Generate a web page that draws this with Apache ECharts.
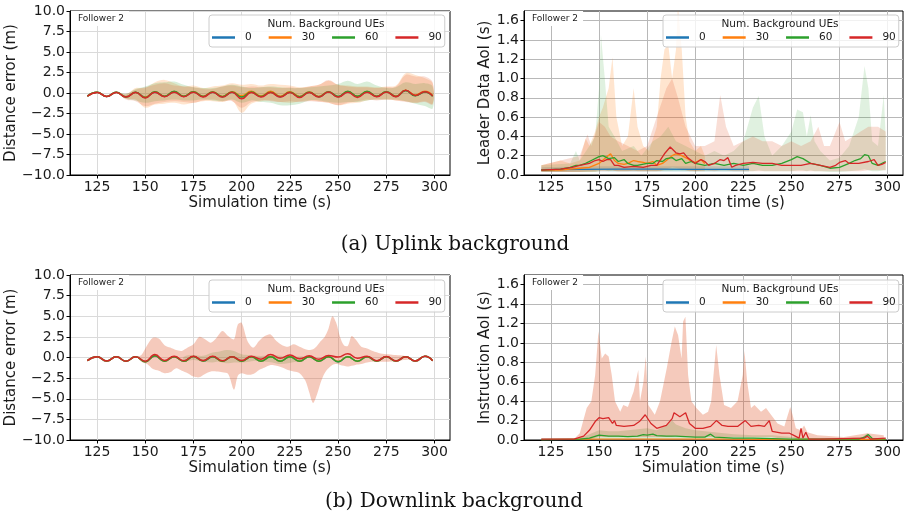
<!DOCTYPE html>
<html>
<head>
<meta charset="utf-8">
<script src="https://cdn.jsdelivr.net/npm/echarts@6/dist/echarts.min.js"></script>
<style>
  html, body { margin: 0; background: #fff; }
  #chart { width: 909px; height: 526px; }
</style>
</head>
<body>
<div id="chart"></div>
<script>
// ---- data ----
const ueCounts = ['0', '30', '60', '90'];
const xTicks = [125, 150, 175, 200, 225, 250, 275, 300];
const aoiTicks = [0, 0.2, 0.4, 0.6, 0.8, 1.0, 1.2, 1.4, 1.6];

// distance error, sampled at peaks / troughs
const errT = [120,125,130,135,140,145,150,155,160,165,170,175,180,185,190,195,200,205,210,215,220,225,230,235,240,245,250,255,260,265,270,275,280,285,290,295,299];

// (a) uplink, distance error
const ulErr0  = [-0.38,0.08,-0.42,0.08,-0.45,0.08,-0.5,0.1,-0.42,0.12,-0.42,0.12,-0.42,0.1,-0.45,0.1,-0.45,0.12,-0.42,0.12,-0.45,0.1,-0.45,0.1,-0.45,0.12,-0.45,0.12,-0.42,0.12,-0.42,0.12,-0.42,0.3,-0.3,0.15,-0.35];
const ulErr30 = [-0.38,0.08,-0.42,0.08,-0.45,0.1,-0.5,0.12,-0.4,0.15,-0.4,0.15,-0.4,0.12,-0.42,0.15,-0.35,0.2,-0.38,0.2,-0.4,0.15,-0.42,0.12,-0.42,0.15,-0.45,0.15,-0.4,0.12,-0.4,0.12,-0.38,0.35,-0.25,0.2,-0.3];
const ulErr60 = [-0.38,0.08,-0.42,0.08,-0.5,0.08,-0.55,0.15,-0.4,0.2,-0.4,0.15,-0.42,0.12,-0.45,0.12,-0.5,0.12,-0.42,0.1,-0.45,0.1,-0.45,0.1,-0.45,0.15,-0.42,0.2,-0.4,0.2,-0.4,0.15,-0.42,0.3,-0.35,0.12,-0.4];
const ulErr90 = [-0.4,0.07,-0.42,0.07,-0.5,0.05,-0.6,0.1,-0.45,0.1,-0.45,0.1,-0.48,0.08,-0.5,0.08,-0.7,0.05,-0.5,0.05,-0.5,0.05,-0.55,0.05,-0.5,0.12,-0.5,0.1,-0.55,0.1,-0.45,0.12,-0.45,0.35,-0.3,0.15,-0.38];
const ulErrLo30 = [-0.4,0.05,-0.45,0.05,-0.7,-0.8,-1.8,-1.4,-1.3,-1.2,-1.4,-1.2,-1.0,-1.0,-1.1,-0.9,-2.4,-1.3,-1.0,-0.9,-1.1,-1.2,-1.0,-0.9,-1.0,-1.2,-1.5,-1.3,-1.2,-0.9,-0.8,-0.8,-0.9,-1.0,-1.2,-1.0,-1.3];
const ulErrHi30 = [-0.35,0.1,-0.4,0.12,-0.2,0.6,0.6,1.3,1.6,1.2,0.8,0.9,0.6,0.8,0.9,1.2,1.0,1.1,0.9,1.1,1.0,0.9,0.7,0.8,1.0,1.5,1.0,0.9,0.8,0.8,0.7,0.8,0.9,2.4,2.2,1.8,1.2];
const ulErrLo60 = [-0.4,0.05,-0.45,0.05,-0.7,-0.9,-1.2,-1.0,-0.9,-0.8,-0.9,-0.9,-0.8,-0.9,-1.0,-0.8,-1.2,-0.9,-1.1,-1.2,-1.5,-1.5,-1.3,-0.9,-0.9,-1.1,-1.2,-1.1,-1.1,-0.9,-0.8,-0.8,-0.8,-1.0,-1.3,-1.6,-1.9];
const ulErrHi60 = [-0.35,0.1,-0.4,0.12,-0.1,0.5,0.8,1.2,1.3,1.4,1.0,0.7,0.6,0.6,0.8,1.0,0.8,0.6,0.7,0.8,0.7,0.6,0.6,0.7,0.8,0.9,1.1,1.5,1.1,1.4,0.9,0.6,0.7,1.3,1.1,1.2,0.8];
const ulErrLo90 = [-0.42,0.04,-0.45,0.04,-0.8,-1.0,-1.6,-1.3,-1.1,-1.0,-1.1,-1.2,-0.9,-0.8,-1.0,-1.0,-1.8,-1.1,-0.9,-1.0,-1.1,-1.0,-1.1,-1.0,-1.1,-1.2,-1.5,-1.2,-1.0,-0.8,-0.9,-0.8,-0.9,-1.1,-1.2,-1.1,-1.4];
const ulErrHi90 = [-0.36,0.1,-0.4,0.1,-0.1,0.4,0.7,1.0,1.2,0.9,0.8,0.7,0.5,0.5,0.8,0.9,0.7,0.8,0.7,0.7,0.6,0.7,0.6,0.8,1.0,1.6,1.0,0.8,0.7,0.7,0.6,0.7,0.8,2.2,2.0,2.0,1.3];

// (a) uplink, leader data AoI
const ulAoiT0 = [120,140,160,180,200,228];
const ulAoi0  = [0.055,0.058,0.06,0.06,0.058,0.058];
const ulAoiT30 = [120,130,135,140,145,150,153,156,158,160,163,165,168,170,173,175,178,180,183,185,188,190,193,196,198,200,203,205];
const ulAoi30  = [0.05,0.05,0.06,0.07,0.08,0.12,0.17,0.22,0.15,0.12,0.11,0.12,0.15,0.14,0.13,0.12,0.14,0.1,0.12,0.15,0.2,0.22,0.2,0.17,0.14,0.13,0.16,0.12];
const ulAoiT60 = [120,130,135,138,140,143,146,150,152,155,158,160,163,165,168,170,175,178,180,183,185,188,190,193,195,198,200,205,210,215,220,225,230,235,240,245,250,253,256,260,265,270,275,280,283,286,288,290,292,295,299];
const ulAoi60  = [0.05,0.06,0.08,0.1,0.1,0.12,0.15,0.19,0.2,0.17,0.18,0.14,0.16,0.12,0.1,0.1,0.12,0.12,0.15,0.14,0.17,0.18,0.15,0.17,0.12,0.14,0.12,0.1,0.12,0.1,0.12,0.1,0.12,0.1,0.1,0.12,0.16,0.19,0.17,0.12,0.1,0.07,0.08,0.12,0.15,0.17,0.21,0.2,0.12,0.1,0.14];
const ulAoiT90 = [120,130,136,140,145,148,150,152,154,156,158,160,163,168,173,177,180,184,187,190,192,194,196,198,200,203,205,207,210,213,215,217,219,221,225,230,235,240,245,250,255,260,265,270,273,275,278,280,285,290,293,295,297,299];
const ulAoi90  = [0.05,0.06,0.08,0.1,0.12,0.15,0.16,0.14,0.16,0.16,0.1,0.1,0.08,0.09,0.08,0.1,0.1,0.22,0.29,0.23,0.22,0.23,0.18,0.15,0.12,0.16,0.14,0.1,0.12,0.16,0.15,0.18,0.08,0.1,0.12,0.13,0.12,0.12,0.1,0.1,0.1,0.12,0.1,0.08,0.1,0.13,0.15,0.12,0.12,0.14,0.16,0.1,0.11,0.13];
const ulAoiBandT0 = [120,150,180,210,228];
const ulAoiLo0 = [0.03,0.035,0.035,0.035,0.035];
const ulAoiHi0 = [0.08,0.09,0.09,0.09,0.09];
const ulAoiBandT30 = [120,130,135,140,143,145,148,150,152,155,157,159,162,165,168,170,173,176,180,182,184,186,188,190,191,193,195,197,200,203,205];
const ulAoiLo30 = [0.03,0.03,0.03,0.03,0.03,0.03,0.03,0.04,0.04,0.04,0.05,0.04,0.04,0.04,0.05,0.04,0.04,0.04,0.04,0.04,0.05,0.05,0.05,0.06,0.06,0.05,0.05,0.04,0.04,0.04,0.04];
const ulAoiHi30 = [0.1,0.15,0.12,0.15,0.38,0.3,0.45,0.6,0.7,0.9,1.22,0.6,0.3,0.4,0.9,0.5,0.3,0.25,0.5,1.0,1.3,1.35,1.0,1.3,1.75,1.3,0.6,0.35,0.25,0.3,0.2];
const ulAoiBandT60 = [120,135,138,140,145,148,150,151,153,155,158,162,168,172,178,182,186,190,195,200,205,210,215,220,225,230,233,236,240,245,250,253,256,258,260,262,265,270,275,280,285,288,290,292,295,298,299];
const ulAoiLo60 = [0.03,0.03,0.03,0.03,0.03,0.03,0.04,0.05,0.05,0.04,0.04,0.04,0.04,0.04,0.04,0.04,0.04,0.04,0.04,0.04,0.04,0.04,0.04,0.04,0.04,0.04,0.05,0.04,0.04,0.04,0.04,0.05,0.05,0.04,0.05,0.04,0.04,0.03,0.03,0.04,0.05,0.06,0.05,0.04,0.04,0.05,0.05];
const ulAoiHi60 = [0.1,0.12,0.25,0.15,0.3,0.4,0.9,1.45,1.0,0.5,0.4,0.25,0.3,0.2,0.35,0.4,0.5,0.35,0.3,0.25,0.2,0.25,0.2,0.25,0.35,0.7,0.82,0.4,0.2,0.3,0.45,0.68,0.65,0.4,0.62,0.35,0.25,0.15,0.18,0.3,0.6,1.13,0.9,0.35,0.3,0.83,0.4];
const ulAoiBandT90 = [120,130,140,144,146,150,153,156,160,165,170,175,180,185,188,191,195,200,205,210,213,216,220,225,230,235,240,245,250,255,260,264,267,270,275,278,282,286,290,295,299];
const ulAoiLo90 = [0.03,0.03,0.03,0.04,0.04,0.05,0.05,0.05,0.04,0.04,0.04,0.04,0.04,0.06,0.08,0.07,0.05,0.04,0.05,0.04,0.05,0.05,0.04,0.04,0.04,0.04,0.04,0.04,0.04,0.04,0.04,0.04,0.04,0.04,0.04,0.04,0.04,0.04,0.05,0.05,0.05];
const ulAoiHi90 = [0.1,0.15,0.2,0.42,0.3,0.55,0.5,0.4,0.35,0.3,0.25,0.3,0.6,0.9,1.0,0.8,0.5,0.3,0.3,0.35,0.83,0.5,0.3,0.35,0.4,0.35,0.35,0.3,0.35,0.3,0.35,0.5,0.3,0.3,0.55,0.35,0.4,0.45,0.5,0.5,0.45];

// (b) downlink, distance error
const dlErr0  = [-0.38,0.08,-0.42,0.08,-0.45,0.1,-0.5,0.18,-0.45,0.1,-0.45,0.12,-0.42,0.1,-0.45,0.08,-0.45,0.1,-0.45,0.08,-0.45,0.1,-0.45,0.08,-0.45,0.1,-0.5,0.1,-0.45,0.1,-0.42,0.1,-0.42,0.1,-0.42,0.15,-0.38];
const dlErr30 = [-0.38,0.08,-0.42,0.08,-0.45,0.1,-0.5,0.2,-0.45,0.1,-0.45,0.12,-0.42,0.12,-0.45,0.1,-0.45,0.1,-0.45,0.1,-0.45,0.1,-0.45,0.08,-0.45,0.1,-0.48,0.1,-0.45,0.1,-0.42,0.1,-0.42,0.1,-0.42,0.15,-0.38];
const dlErr60 = [-0.38,0.08,-0.42,0.08,-0.45,0.1,-0.5,0.2,-0.45,0.1,-0.45,0.12,-0.42,0.1,-0.45,0.08,-0.45,0.1,-0.45,0.08,-0.45,0.1,-0.45,0.08,-0.45,0.1,-0.5,0.1,-0.45,0.1,-0.42,0.1,-0.42,0.1,-0.42,0.15,-0.38];
const dlErr90 = [-0.38,0.08,-0.42,0.08,-0.45,0.1,-0.45,0.35,-0.35,0.15,-0.4,0.15,-0.35,0.15,-0.4,0.1,-0.35,0.15,-0.2,0.35,-0.1,0.3,-0.15,0.2,-0.2,0.25,0.05,0.45,-0.1,0.15,-0.4,0.12,-0.42,0.1,-0.42,0.15,-0.38];
const dlErrBandT60 = [170,175,180,185,188,192,196,200,204,208,212,216,220,224,228,232];
const dlErrLo60 = [-0.45,-0.3,-0.5,-0.6,-0.5,-0.7,-0.6,-0.6,-0.5,-0.4,-0.5,-0.6,-0.8,-0.7,-0.5,-0.45];
const dlErrHi60 = [0.1,0.3,0.2,0.6,0.7,0.9,0.8,0.4,0.3,0.2,0.2,0.3,0.2,0.1,0.1,0.1];
const dlErrBandT90 = [146,148,151,154,157,160,163,166,169,172,175,178,181,184,187,190,193,196,198,200,203,206,209,212,215,218,221,224,227,230,233,235,237,239,241,243,245,247,249,251,253,255,257,259,262,265,268,272,276,280,284,288];
const dlErrLo90 = [0.0,-0.5,-0.8,-1.4,-1.6,-1.9,-1.8,-1.3,-1.6,-1.9,-2.3,-2.4,-2.0,-1.7,-1.7,-1.8,-2.0,-3.9,-2.2,-1.9,-2.1,-2.0,-1.5,-1.2,-0.9,-1.0,-1.2,-1.5,-1.7,-1.9,-2.8,-4.2,-5.5,-4.5,-3.0,-1.9,-1.3,-0.9,-0.8,-0.9,-1.0,-1.1,-1.0,-0.9,-0.8,-0.6,-0.5,-0.5,-0.5,-0.45,-0.3,-0.2];
const dlErrHi90 = [0.1,0.3,1.5,2.4,2.3,1.5,1.2,0.9,0.8,1.2,1.6,2.5,2.2,1.8,2.4,3.2,2.6,2.2,4.0,4.2,2.0,1.2,2.0,2.6,2.8,2.0,1.5,1.3,1.6,1.3,1.0,0.9,1.0,1.4,2.0,2.5,3.5,5.0,4.2,2.5,1.5,1.4,2.6,2.2,1.3,1.1,0.8,0.5,0.4,0.3,0.2,-0.1];

// (b) downlink, instruction AoI
const dlAoiT0 = [120,150,180,210,240,270,299];
const dlAoi0  = [0.003,0.004,0.004,0.004,0.003,0.003,0.003];
const dlAoiT30 = [120,150,180,210,240,270,299];
const dlAoi30  = [0.004,0.008,0.01,0.008,0.006,0.004,0.004];
const dlAoiT60 = [120,140,145,150,155,160,165,170,173,175,178,180,185,190,195,200,205,208,210,215,220,230,240,250,260,285,288,290,292,299];
const dlAoi60  = [0.005,0.01,0.02,0.05,0.04,0.04,0.035,0.04,0.055,0.05,0.06,0.045,0.04,0.04,0.035,0.03,0.03,0.06,0.03,0.025,0.02,0.02,0.015,0.01,0.008,0.01,0.03,0.055,0.015,0.008];
const dlAoiT90 = [120,137,142,145,148,150,152,155,157,158,159,163,168,171,174,177,180,185,188,189,192,195,197,200,204,208,211,214,217,222,226,229,233,236,238.5,240,245,249,251,254,255,256,257.5,259,265,288,289.5,291,299];
const dlAoi90  = [0.01,0.01,0.04,0.1,0.19,0.23,0.22,0.23,0.17,0.2,0.15,0.14,0.15,0.19,0.26,0.17,0.12,0.15,0.22,0.28,0.24,0.28,0.17,0.12,0.12,0.14,0.2,0.15,0.14,0.14,0.2,0.14,0.15,0.14,0.2,0.09,0.07,0.07,0.05,0.02,0.12,0.02,0.08,0.01,0.01,0.02,0.04,0.01,0.02];
const dlAoiBandT60 = [120,140,145,150,155,160,165,170,175,180,185,188,190,195,200,205,210,215,220,230,240,250,260,280,287,289.5,292,299];
const dlAoiLo60 = [0,0,0.005,0.01,0.01,0.01,0.01,0.01,0.01,0.01,0.01,0.01,0.01,0.01,0.01,0.01,0.01,0.01,0.005,0.005,0.005,0,0,0,0,0.01,0,0];
const dlAoiHi60 = [0.01,0.02,0.06,0.1,0.09,0.09,0.1,0.11,0.12,0.1,0.15,0.2,0.16,0.12,0.1,0.09,0.08,0.07,0.06,0.05,0.05,0.03,0.02,0.02,0.03,0.07,0.02,0.02];
const dlAoiBandT90 = [120,137,140,143.6,146,148,149.7,151.4,153.2,155,156.6,158.3,161,162.6,165,168,170.4,171.3,173.1,174.3,175.6,179,181.7,185.2,187.7,189.4,191.1,192.9,193.7,194.9,196.3,198,200.6,204,206.7,208.3,210.9,212.6,215,218.6,222,224.7,225.6,227,229,230.8,234.2,236.8,239.4,242.8,246.3,249.4,250.6,252.3,254.9,256.6,258.3,263.5,277.3,289.4,298];
const dlAoiLo90 = [0,0,0,0.01,0.01,0.02,0.03,0.03,0.03,0.03,0.03,0.03,0.03,0.03,0.03,0.03,0.03,0.03,0.03,0.03,0.03,0.03,0.03,0.03,0.03,0.04,0.04,0.04,0.04,0.04,0.03,0.03,0.03,0.03,0.03,0.03,0.03,0.03,0.03,0.03,0.03,0.03,0.03,0.03,0.03,0.03,0.03,0.03,0.03,0.02,0.02,0.02,0.02,0.01,0.01,0.01,0.01,0,0,0,0];
const dlAoiHi90 = [0.01,0.01,0.07,0.33,0.4,0.67,1.12,0.84,0.89,0.86,0.67,0.4,0.29,0.36,0.34,0.5,0.72,0.4,0.6,0.86,0.36,0.26,0.4,0.74,1.01,1.17,1.08,0.84,1.22,1.27,0.67,0.4,0.33,0.26,0.29,0.4,0.98,0.67,0.36,0.33,0.4,0.67,0.92,0.6,0.33,0.36,0.29,0.33,0.26,0.17,0.14,0.34,0.26,0.12,0.1,0.15,0.08,0.05,0.03,0.07,0.05];

// ---- styling ----
const FONT = 'DejaVu Sans';
const TXT = '#1a1a1a';
const COLORS = { '0': '#1f77b4', '30': '#ff7f0e', '60': '#2ca02c', '90': '#d62728' };
const BAND = { '0': '#1f77b4', '30': '#ff7f0e', '60': '#2ca02c', '90': '#e05a30' };

const gridBoxes = [
  { left: 70, top: 11, width: 380, height: 164 },
  { left: 524, top: 11, width: 379, height: 164 },
  { left: 70, top: 275, width: 380, height: 165 },
  { left: 524, top: 275, width: 379, height: 165 }
];
const isAoi = [false, true, false, true];
const yNames = ['Distance error (m)', 'Leader Data AoI (s)', 'Distance error (m)', 'Instruction AoI (s)'];
const legendPos = [[209, 15], [663, 15], [209, 280], [663, 280]];
const followerPos = [[71, 11], [525, 11], [71, 275], [525, 275]];

function pairs(t, v) { return t.map((x, i) => [x, v[i]]); }
function fmtErr(v) { return (v < 0 ? '\u2212' : '') + Math.abs(v).toFixed(1); }

function lineSeries(name, g, t, v, smooth, width) {
  return {
    name: name, type: 'line', xAxisIndex: g, yAxisIndex: g,
    data: pairs(t, v), symbol: 'none', showSymbol: false, smooth: smooth,
    lineStyle: { color: COLORS[name], width: width },
    itemStyle: { color: COLORS[name] },
    z: 3, animation: false
  };
}

function bandSeries(name, g, t, lo, hi, smooth, opacity) {
  return {
    type: 'custom', xAxisIndex: g, yAxisIndex: g, z: 1, silent: true, animation: false,
    data: [[t[0], lo[0]]],
    renderItem: function (params, api) {
      const up = t.map((x, i) => api.coord([x, hi[i]]));
      const dn = t.map((x, i) => api.coord([x, lo[i]])).reverse();
      const cs = params.coordSys;
      return {
        type: 'polygon',
        shape: { points: up.concat(dn), smooth: smooth },
        style: { fill: BAND[name], opacity: opacity },
        clipPath: { type: 'rect', shape: { x: cs.x, y: cs.y, width: cs.width, height: cs.height } }
      };
    }
  };
}

const series = [
  // (a) distance error
  bandSeries('30', 0, errT, ulErrLo30, ulErrHi30, 0.35, 0.2),
  bandSeries('60', 0, errT, ulErrLo60, ulErrHi60, 0.35, 0.18),
  bandSeries('90', 0, errT, ulErrLo90, ulErrHi90, 0.35, 0.2),
  lineSeries('0', 0, errT, ulErr0, 0.5, 1.5),
  lineSeries('30', 0, errT, ulErr30, 0.5, 1.5),
  lineSeries('60', 0, errT, ulErr60, 0.5, 1.5),
  lineSeries('90', 0, errT, ulErr90, 0.5, 1.5),
  // (a) leader data AoI
  bandSeries('0', 1, ulAoiBandT0, ulAoiLo0, ulAoiHi0, 0, 0.2),
  bandSeries('30', 1, ulAoiBandT30, ulAoiLo30, ulAoiHi30, 0, 0.2),
  bandSeries('60', 1, ulAoiBandT60, ulAoiLo60, ulAoiHi60, 0, 0.15),
  bandSeries('90', 1, ulAoiBandT90, ulAoiLo90, ulAoiHi90, 0, 0.2),
  lineSeries('0', 1, ulAoiT0, ulAoi0, false, 1.3),
  lineSeries('30', 1, ulAoiT30, ulAoi30, false, 1.3),
  lineSeries('60', 1, ulAoiT60, ulAoi60, false, 1.3),
  lineSeries('90', 1, ulAoiT90, ulAoi90, false, 1.3),
  // (b) distance error
  bandSeries('60', 2, dlErrBandT60, dlErrLo60, dlErrHi60, 0.35, 0.2),
  bandSeries('90', 2, dlErrBandT90, dlErrLo90, dlErrHi90, 0.3, 0.32),
  lineSeries('0', 2, errT, dlErr0, 0.5, 1.5),
  lineSeries('30', 2, errT, dlErr30, 0.5, 1.5),
  lineSeries('60', 2, errT, dlErr60, 0.5, 1.5),
  lineSeries('90', 2, errT, dlErr90, 0.5, 1.5),
  // (b) instruction AoI
  bandSeries('60', 3, dlAoiBandT60, dlAoiLo60, dlAoiHi60, 0, 0.22),
  bandSeries('90', 3, dlAoiBandT90, dlAoiLo90, dlAoiHi90, 0, 0.32),
  lineSeries('0', 3, dlAoiT0, dlAoi0, false, 1.3),
  lineSeries('30', 3, dlAoiT30, dlAoi30, false, 1.3),
  lineSeries('60', 3, dlAoiT60, dlAoi60, false, 1.3),
  lineSeries('90', 3, dlAoiT90, dlAoi90, false, 1.3)
];

const grid = gridBoxes.map(b => Object.assign({
  show: true, borderColor: '#000', borderWidth: 1, backgroundColor: 'transparent', containLabel: false
}, b));

const xAxis = gridBoxes.map((b, i) => ({
  type: 'value', gridIndex: i, min: 111, max: 308,
  name: 'Simulation time (s)', nameLocation: 'middle', nameGap: 21,
  nameTextStyle: { fontFamily: FONT, fontSize: 15, color: TXT },
  axisLine: { show: true, onZero: false, lineStyle: { color: '#000', width: 1 } },
  axisTick: { show: true, length: 3.5, customValues: xTicks, lineStyle: { color: '#000' } },
  axisLabel: { customValues: xTicks, fontFamily: FONT, fontSize: 14, color: TXT, margin: 5 },
  splitLine: { show: true, lineStyle: { color: isAoi[i] ? '#b8b8b8' : '#dadada', width: 1 } }
}));

const yAxis = gridBoxes.map((b, i) => isAoi[i] ? {
  type: 'value', gridIndex: i, min: 0, max: 1.7,
  name: yNames[i], nameLocation: 'middle', nameGap: 27,
  nameTextStyle: { fontFamily: FONT, fontSize: 15, color: TXT },
  axisLine: { show: true, lineStyle: { color: '#000', width: 1 } },
  axisTick: { show: true, length: 3.5, customValues: aoiTicks, lineStyle: { color: '#000' } },
  axisLabel: { customValues: aoiTicks, fontFamily: FONT, fontSize: 14, color: TXT, margin: 5,
    formatter: v => v.toFixed(1) },
  splitLine: { show: true, lineStyle: { color: '#b8b8b8', width: 1 } }
} : {
  type: 'value', gridIndex: i, min: -10, max: 10, interval: 2.5,
  name: yNames[i], nameLocation: 'middle', nameGap: 44,
  nameTextStyle: { fontFamily: FONT, fontSize: 15, color: TXT },
  axisLine: { show: true, lineStyle: { color: '#000', width: 1 } },
  axisTick: { show: true, length: 3.5, lineStyle: { color: '#000' } },
  axisLabel: { fontFamily: FONT, fontSize: 14, color: TXT, margin: 5, formatter: fmtErr },
  splitLine: { show: true, lineStyle: { color: '#dadada', width: 1 } }
});

const legend = legendPos.map(p => ({
  left: p[0], top: p[1], orient: 'horizontal', data: ueCounts, selectedMode: false,
  icon: 'rect', itemWidth: 23, itemHeight: 2.5, itemGap: 17,
  padding: [17, 3, 4, 3],
  backgroundColor: 'rgba(255,255,255,0.8)', borderColor: '#cccccc', borderWidth: 1, borderRadius: 3,
  textStyle: { fontFamily: FONT, fontSize: 10.5, color: TXT, padding: [0, 0, 0, 5] },
  z: 20
}));

const graphic = [];
legendPos.forEach(p => {
  graphic.push({
    type: 'text', x: p[0] + 117, y: p[1] + 9, z: 40,
    style: { text: 'Num. Background UEs', font: '10.5px "DejaVu Sans"', fill: TXT, align: 'center', verticalAlign: 'middle' }
  });
});
followerPos.forEach(p => {
  graphic.push({
    type: 'text', x: p[0], y: p[1], z: 40,
    style: { text: 'Follower 2', font: '9px "DejaVu Sans"', fill: TXT, backgroundColor: '#fff', padding: [3, 5, 3, 7] }
  });
});
graphic.push({
  type: 'text', x: 455, y: 245, z: 40,
  style: { text: '(a) Uplink background', font: '20px "DejaVu Serif"', fill: '#111', align: 'center', verticalAlign: 'middle' }
});
graphic.push({
  type: 'text', x: 454, y: 502, z: 40,
  style: { text: '(b) Downlink background', font: '20px "DejaVu Serif"', fill: '#111', align: 'center', verticalAlign: 'middle' }
});

const chart = echarts.init(document.getElementById('chart'));
chart.setOption({
  animation: false,
  backgroundColor: '#fff',
  grid: grid,
  xAxis: xAxis,
  yAxis: yAxis,
  legend: legend,
  graphic: graphic,
  series: series
});
</script>
</body>
</html>
